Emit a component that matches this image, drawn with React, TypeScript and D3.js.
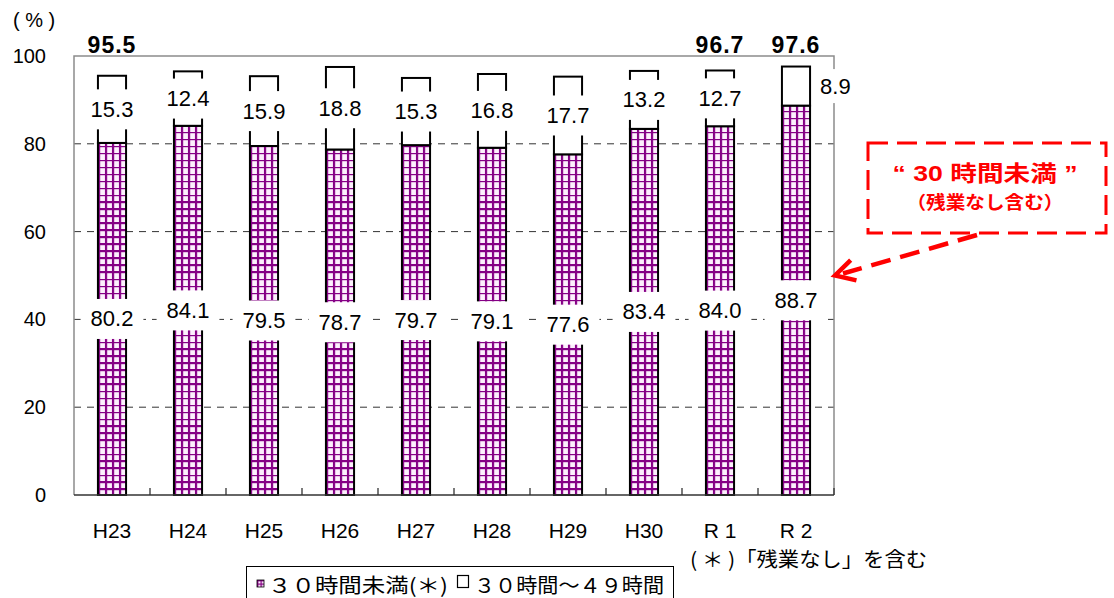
import React from 'react';
import * as d3 from 'd3';

// Survey years and shares of workers (%) by monthly overtime band
const categories = ['H23', 'H24', 'H25', 'H26', 'H27', 'H28', 'H29', 'H30', 'R 1', 'R 2'];
const under30 = [80.2, 84.1, 79.5, 78.7, 79.7, 79.1, 77.6, 83.4, 84.0, 88.7];
const from30to49 = [15.3, 12.4, 15.9, 18.8, 15.3, 16.8, 17.7, 13.2, 12.7, 8.9];
// Years whose combined total is printed above the bar
const totalShown = ['H23', 'R 1', 'R 2'];
// Year whose upper value sits beside the bar instead of inside it
const sideLabel = ['R 2'];
const yTicks = [0, 20, 40, 60, 80, 100];
const legendLabels = ['３０時間未満(＊)', '３０時間～４９時間'];
const footnote = '( ＊ )「残業なし」を含む';
const calloutLines = ['“ 30 時間未満 ”', '（残業なし含む）'];

const W = 1114;
const H = 598;
const M = { left: 74, top: 56, right: 834, bottom: 495 };

const LATIN = "'Liberation Sans', Arial, 'Noto Sans CJK JP', sans-serif";
const CJK = "'Noto Sans CJK JP', 'Noto Sans CJK SC', sans-serif";
const PURPLE = '#850085';
const RED = '#ff0000';

const numWidth = (s: string, size: number) =>
  Array.from(s).reduce((w, c) => w + (c === '.' ? 0.278 : c === ' ' ? 0.278 : 0.556), 0) * size;

export default function App() {
  const x = d3
    .scaleBand<string>()
    .domain(categories)
    .range([M.left, M.right])
    .paddingInner(0.63)
    .paddingOuter(0.315);
  const y = d3.scaleLinear().domain([0, 100]).range([M.bottom, M.top]);
  const bw = x.bandwidth();
  const step = x.step();

  const rows = categories.map((c, i) => {
    const total = Math.round((under30[i] + from30to49[i]) * 10) / 10;
    return { c, i, lo: under30[i], hi: from30to49[i], total };
  });

  const labelFont = 22;
  const boxH = 40;

  // callout box and arrow pointing at the last bar
  const cb = { x: 868, y: 143, w: 238, h: 90 };
  const arrowFrom: [number, number] = [cb.x + 109, cb.y + cb.h + 2];
  const arrowTo: [number, number] = [M.right + 1, y(50)];
  const ang = Math.atan2(arrowFrom[1] - arrowTo[1], arrowFrom[0] - arrowTo[0]);
  const arm = 22;
  const spread = 0.5;
  const headPath = d3.path();
  headPath.moveTo(arrowTo[0] + arm * Math.cos(ang - spread), arrowTo[1] + arm * Math.sin(ang - spread));
  headPath.lineTo(arrowTo[0], arrowTo[1]);
  headPath.lineTo(arrowTo[0] + arm * Math.cos(ang + spread), arrowTo[1] + arm * Math.sin(ang + spread));

  return (
    <svg
      width={W}
      height={H}
      viewBox={`0 0 ${W} ${H}`}
      style={{ position: 'absolute', left: 0, top: 0, background: '#fff' }}
    >
      <defs>
        {rows.map((r) => (
          <pattern
            key={r.c}
            id={`grid-${r.i}`}
            patternUnits="userSpaceOnUse"
            x={x(r.c)!}
            y={M.bottom}
            width={7}
            height={7}
          >
            <rect width={7} height={7} fill="#fdf0fd" />
            <rect x={0} y={0} width={2.2} height={7} fill={PURPLE} />
            <rect x={0} y={0} width={7} height={2.2} fill={PURPLE} />
          </pattern>
        ))}
        <pattern id="grid-key" patternUnits="userSpaceOnUse" x={257} y={580} width={3.5} height={3.5}>
          <rect width={3.5} height={3.5} fill="#fdf0fd" />
          <rect width={1.3} height={3.5} fill={PURPLE} />
          <rect width={3.5} height={1.3} fill={PURPLE} />
        </pattern>
      </defs>

      {/* "(%)" unit */}
      <text x={13} y={20} fontFamily={LATIN} fontSize={20} dominantBaseline="central">
        ( % )
      </text>

      {/* gridlines */}
      {yTicks
        .filter((t) => t > 0 && t < 100)
        .map((t) => (
          <line
            key={t}
            x1={M.left}
            x2={M.right}
            y1={y(t)}
            y2={y(t)}
            stroke="#333"
            strokeWidth={1}
            strokeDasharray="7,6"
          />
        ))}

      {/* plot frame */}
      <path
        d={`M${M.left},${M.bottom}V${M.top}H${M.right}V${M.bottom}`}
        fill="none"
        stroke="#8c8c8c"
        strokeWidth={1.5}
      />

      {/* y tick labels */}
      {yTicks.map((t) => (
        <text
          key={t}
          x={46}
          y={y(t)}
          textAnchor="end"
          dominantBaseline="central"
          fontFamily={LATIN}
          fontSize={20}
        >
          {t}
        </text>
      ))}

      {/* bars */}
      {rows.map((r) => {
        const bx = x(r.c)!;
        return (
          <g key={r.c}>
            <rect
              x={bx}
              y={y(r.lo)}
              width={bw}
              height={y(0) - y(r.lo)}
              fill={`url(#grid-${r.i})`}
              stroke="#000"
              strokeWidth={2}
            />
            <rect
              x={bx}
              y={y(r.total)}
              width={bw}
              height={y(r.lo) - y(r.total)}
              fill="#fff"
              stroke="#000"
              strokeWidth={2}
            />
          </g>
        );
      })}

      {/* value labels */}
      {rows.map((r) => {
        const cx = x(r.c)! + bw / 2;
        const loText = r.lo.toFixed(1);
        const hiText = r.hi.toFixed(1);
        const loY = y(r.lo / 2);
        const hiY = y(r.lo + r.hi / 2);
        const loW = numWidth(loText, labelFont) + 20;
        const hiW = numWidth(hiText, labelFont) + 20;
        const side = sideLabel.includes(r.c);
        const sideX = x(r.c)! + bw + 10;
        return (
          <g key={r.c} fontFamily={LATIN} fontSize={labelFont}>
            <rect x={cx - loW / 2} y={loY - boxH / 2} width={loW} height={boxH} fill="#fff" />
            <text x={cx} y={loY} textAnchor="middle" dominantBaseline="central">
              {loText}
            </text>
            {side ? (
              <>
                <rect
                  x={sideX - 4}
                  y={hiY - 17}
                  width={numWidth(hiText, labelFont) + 12}
                  height={34}
                  fill="#fff"
                />
                <text x={sideX} y={hiY} dominantBaseline="central">
                  {hiText}
                </text>
              </>
            ) : (
              <>
                <rect x={cx - hiW / 2} y={hiY - boxH / 2} width={hiW} height={boxH} fill="#fff" />
                <text x={cx} y={hiY} textAnchor="middle" dominantBaseline="central">
                  {hiText}
                </text>
              </>
            )}
            {totalShown.includes(r.c) && (
              <text
                x={cx}
                y={53}
                textAnchor="middle"
                fontWeight="bold"
                fontSize={23}
                letterSpacing={1}
              >
                {r.total.toFixed(1)}
              </text>
            )}
          </g>
        );
      })}

      {/* x axis */}
      <line x1={M.left} x2={M.right} y1={M.bottom} y2={M.bottom} stroke="#333" strokeWidth={1.6} />
      {categories.map((c, i) => (
        <line
          key={`t-${c}`}
          x1={M.left + step * (i + 1)}
          x2={M.left + step * (i + 1)}
          y1={M.bottom}
          y2={M.bottom - 7}
          stroke="#333"
          strokeWidth={1.3}
        />
      ))}
      {categories.map((c) => (
        <text
          key={`l-${c}`}
          x={x(c)! + bw / 2}
          y={538}
          textAnchor="middle"
          fontFamily={LATIN}
          fontSize={21}
        >
          {c}
        </text>
      ))}

      {/* footnote */}
      <text
        x={690}
        y={558}
        dominantBaseline="central"
        fontFamily={CJK}
        fontSize={20}
        textLength={237}
        lengthAdjust="spacingAndGlyphs"
      >
        {footnote}
      </text>

      {/* legend */}
      <rect x={246.5} y={566.5} width={427} height={40} fill="#fff" stroke="#000" strokeWidth={1} />
      <rect x={257} y={580} width={7} height={7} fill="url(#grid-key)" stroke="#000" strokeWidth={0.8} />
      <text
        x={268}
        y={584.5}
        dominantBaseline="central"
        fontFamily={CJK}
        fontSize={20}
        textLength={180}
        lengthAdjust="spacingAndGlyphs"
      >
        {legendLabels[0]}
      </text>
      <rect x={457.5} y={575.5} width={11} height={12} fill="#fff" stroke="#000" strokeWidth={1.2} />
      <text
        x={474}
        y={584.5}
        dominantBaseline="central"
        fontFamily={CJK}
        fontSize={20}
        textLength={190}
        lengthAdjust="spacingAndGlyphs"
      >
        {legendLabels[1]}
      </text>

      {/* callout */}
      <rect
        x={cb.x}
        y={cb.y}
        width={cb.w}
        height={cb.h}
        fill="none"
        stroke={RED}
        strokeWidth={3}
        strokeDasharray="20,9"
      />
      <text
        x={cb.x + cb.w / 2 - 2}
        y={cb.y + 30}
        textAnchor="middle"
        dominantBaseline="central"
        fill={RED}
        fontFamily={LATIN}
        fontWeight="bold"
        fontSize={22}
        textLength={185}
        lengthAdjust="spacingAndGlyphs"
      >
        {calloutLines[0]}
      </text>
      <text
        x={cb.x + cb.w / 2 - 2}
        y={cb.y + 58}
        textAnchor="middle"
        dominantBaseline="central"
        fill={RED}
        fontFamily={CJK}
        fontWeight="bold"
        fontSize={18}
        textLength={157}
        lengthAdjust="spacingAndGlyphs"
      >
        {calloutLines[1]}
      </text>
      <line
        x1={arrowFrom[0]}
        y1={arrowFrom[1]}
        x2={arrowTo[0] + 8}
        y2={arrowTo[1] - 2}
        stroke={RED}
        strokeWidth={4.5}
        strokeDasharray="20,10"
      />
      <path d={headPath.toString()} fill="none" stroke={RED} strokeWidth={4.5} />
    </svg>
  );
}
